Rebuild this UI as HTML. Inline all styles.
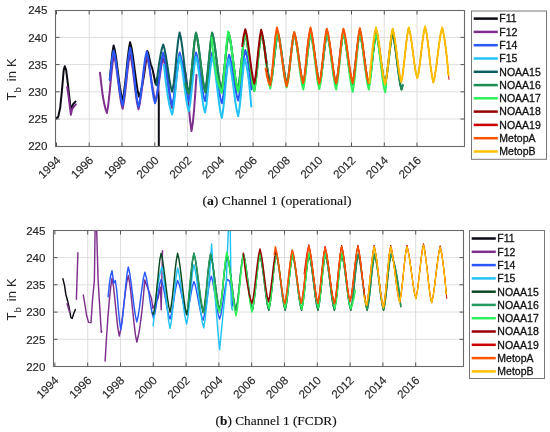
<!DOCTYPE html>
<html><head><meta charset="utf-8"><style>
html,body{margin:0;padding:0;background:#fff;width:550px;height:432px;overflow:hidden}
svg{display:block;will-change:transform}
.tk{font-family:"Liberation Sans",sans-serif;font-size:11.6px;fill:#262626;stroke:#262626;stroke-width:0.15}
.tx{font-family:"Liberation Sans",sans-serif;font-size:11.6px;fill:#262626;stroke:#262626;stroke-width:0.15}
.yl{font-family:"Liberation Sans",sans-serif;font-size:13px;fill:#262626;letter-spacing:0.1px}
.sub{font-size:9.5px}
.lg{font-family:"Liberation Sans",sans-serif;font-size:10.5px;fill:#111;stroke:#111;stroke-width:0.3}
.cap{font-family:"Liberation Serif",serif;font-size:13.2px;fill:#111;stroke:#111;stroke-width:0.15}
</style></head><body>
<svg width="550" height="432" viewBox="0 0 550 432">
<clipPath id="cliptop"><rect x="55.5" y="10.5" width="409.0" height="136.0"/></clipPath>
<path d="M89.25 10.5V146.5M122.03 10.5V146.5M154.81 10.5V146.5M187.58 10.5V146.5M220.36 10.5V146.5M253.14 10.5V146.5M285.92 10.5V146.5M318.70 10.5V146.5M351.47 10.5V146.5M384.25 10.5V146.5M417.03 10.5V146.5M55.5 119.00H464.5M55.5 91.80H464.5M55.5 64.60H464.5M55.5 37.40H464.5" stroke="#dedede" stroke-width="1" fill="none"/>
<path d="M55.4 119.0L58.2 116.9L60.2 107.8L62.0 89.8L63.7 70.3L64.8 66.2L66.2 70.3L67.9 84.2L69.3 96.7L70.4 106.4L71.4 110.0L72.0 106.4L73.4 103.7L75.5 101.6" stroke="#0b0b16" stroke-width="2.0" fill="none" stroke-linejoin="round" stroke-linecap="round" clip-path="url(#cliptop)"/>
<path d="M109.8 79.8L111.1 65.4L112.3 53.2L113.6 45.6L114.9 50.5L116.2 58.4L117.4 68.0L118.7 78.1L120.0 87.7L121.3 95.5L122.6 100.5L123.8 94.0L125.1 83.7L126.4 71.4L127.6 59.1L128.9 48.8L130.1 42.3L131.4 47.2L132.7 55.0L134.0 64.5L135.3 74.5L136.6 84.0L137.8 91.8L139.1 96.7L140.5 92.9L141.8 87.5L143.1 80.6L144.5 72.2L145.8 62.3L147.2 51.0L148.2 53.0L150.7 64.3L152.3 68.4L153.9 75.7L155.5 83.8L157.2 78.1L158.0 82.1L158.8 100.0L158.8 147.0" stroke="#0b0b16" stroke-width="2.0" fill="none" stroke-linejoin="round" stroke-linecap="round" clip-path="url(#cliptop)"/>
<path d="M67.2 87.0L68.6 96.7L70.0 107.8L70.9 114.8L72.0 109.2L74.1 106.4L75.9 104.4" stroke="#7e2f8e" stroke-width="2.0" fill="none" stroke-linejoin="round" stroke-linecap="round" clip-path="url(#cliptop)"/>
<path d="M100.0 72.8L101.4 85.2L102.7 95.3L104.1 103.1L105.5 109.0L106.9 113.0L108.3 104.8L109.7 91.6L111.1 76.8L112.5 63.6L113.9 55.4L115.4 61.3L116.8 70.8L118.2 82.0L119.7 93.3L121.1 102.7L122.6 108.7L123.8 102.6L125.1 92.9L126.4 81.5L127.6 70.0L128.9 60.3L130.1 54.3L131.5 60.4L132.9 70.1L134.3 81.7L135.7 93.3L137.1 103.1L138.5 109.2L139.8 103.3L141.2 94.0L142.6 82.8L143.9 71.7L145.3 62.3L146.7 56.4L148.0 60.5L149.2 66.8L150.5 74.6L151.8 82.9L153.1 90.6L154.4 97.0L155.7 101.0L157.1 94.9L158.6 85.1L160.1 74.0L161.6 64.2L163.0 58.1L164.4 62.6L165.7 69.7L167.0 78.5L168.3 87.7L169.6 96.4L170.9 103.6L172.2 108.1L173.7 100.8L175.2 89.1L176.6 76.0L178.1 64.3L179.6 57.0L181.1 59.5L182.6 63.4L184.1 68.4L185.7 73.8L187.1 87.1L188.6 104.3L190.1 120.6L191.5 131.0L192.8 123.0L194.0 110.7L195.2 94.5L196.5 74.9" stroke="#7e2f8e" stroke-width="2.0" fill="none" stroke-linejoin="round" stroke-linecap="round" clip-path="url(#cliptop)"/>
<path d="M109.8 79.8L111.1 67.4L112.3 57.0L113.6 50.5L114.9 55.4L116.2 63.3L117.4 72.9L118.7 83.0L120.0 92.6L121.3 100.4L122.6 105.4L123.8 99.0L125.1 88.7L126.4 76.6L127.6 64.4L128.9 54.1L130.1 47.7L131.5 54.3L132.9 64.9L134.3 77.4L135.7 89.9L137.1 100.4L138.5 107.0L139.8 100.9L141.2 91.0L142.6 79.3L143.9 67.6L145.3 57.7L146.7 51.5L148.1 57.3L149.5 66.5L150.8 77.4L152.2 88.3L153.6 97.5L155.0 103.2L156.4 97.6L157.8 88.6L159.1 77.9L160.5 67.2L161.8 58.3L163.2 52.6L164.5 57.4L165.8 64.9L167.1 74.1L168.4 83.9L169.6 93.1L170.9 100.6L172.2 105.4L173.7 97.9L175.2 85.8L176.6 72.2L178.1 60.1L179.6 52.6L180.9 57.0L182.2 63.9L183.5 72.4L184.8 81.3L186.1 89.8L187.5 96.7L188.8 101.0L190.2 94.2L191.6 83.1L193.1 70.6L194.5 59.5L196.0 52.6L197.3 57.0L198.5 63.9L199.8 72.4L201.1 81.3L202.4 89.8L203.7 96.7L205.0 101.0L206.4 94.2L207.9 83.1L209.3 70.6L210.7 59.5L212.2 52.6L213.6 57.2L214.9 64.4L216.3 73.3L217.7 82.6L219.1 91.4L220.5 98.7L221.9 103.2L223.3 96.3L224.7 85.3L226.2 72.8L227.6 61.7L229.1 54.8L230.4 58.9L231.7 65.5L233.0 73.4L234.3 81.9L235.6 89.8L236.9 96.4L238.2 100.5L239.6 93.3L241.0 81.7L242.5 68.7L243.9 57.1L245.3 49.9L246.8 55.4L248.3 63.9L249.8 75.3L251.3 89.6" stroke="#2a58fb" stroke-width="2.0" fill="none" stroke-linejoin="round" stroke-linecap="round" clip-path="url(#cliptop)"/>
<path d="M164.0 65.1L165.4 78.3L166.8 89.2L168.1 98.1L169.5 105.2L170.9 110.7L172.2 114.6L173.7 106.4L175.2 93.0L176.6 78.0L178.1 64.7L179.6 56.4L180.9 61.4L182.2 69.3L183.5 78.8L184.8 89.0L186.1 98.6L187.5 106.4L188.8 111.4L190.2 103.6L191.6 91.0L193.1 76.8L194.5 64.3L196.0 56.4L197.3 61.5L198.5 69.5L199.8 79.3L201.1 89.6L202.4 99.4L203.7 107.4L205.0 112.5L206.5 104.5L207.9 91.7L209.4 77.2L210.9 64.4L212.3 56.4L213.7 62.0L215.1 70.8L216.4 81.5L217.8 92.9L219.1 103.6L220.5 112.4L221.9 117.9L223.2 109.5L224.6 96.1L226.0 81.0L227.4 67.5L228.7 59.2L230.1 64.3L231.4 72.5L232.8 82.4L234.2 93.0L235.5 103.0L236.9 111.1L238.2 116.3L239.5 108.1L240.9 94.9L242.2 80.0L243.5 66.8L244.8 58.6L246.1 63.5L247.4 70.6L248.7 80.0L250.0 91.9L251.3 106.5" stroke="#22c2f4" stroke-width="2.0" fill="none" stroke-linejoin="round" stroke-linecap="round" clip-path="url(#cliptop)"/>
<path d="M156.3 85.3L157.7 73.8L159.1 63.7L160.5 55.3L161.8 48.9L163.2 44.5L164.5 48.7L165.8 55.5L167.1 63.8L168.4 72.5L169.6 80.8L170.9 87.5L172.2 91.8L173.7 83.4L175.2 69.8L176.6 54.5L178.1 40.9L179.6 32.5L180.9 38.0L182.2 46.7L183.5 57.3L184.8 68.6L186.1 79.2L187.5 87.9L188.8 93.4L190.2 84.8L191.6 71.0L193.1 55.5L194.5 41.6L196.0 33.0L197.3 38.3L198.5 46.5L199.8 56.6L201.1 67.2L202.4 77.3L203.7 85.5L205.0 90.7L206.5 82.5L207.9 69.3L209.4 54.5L210.9 41.3L212.3 33.0L213.6 38.3L214.9 46.5L216.2 56.6L217.5 67.2L218.8 77.3L220.1 85.5L221.4 90.7L222.8 82.5L224.3 69.3L225.8 54.5L227.3 41.3L228.7 33.0L230.0 38.3L231.3 46.5L232.6 56.6L233.9 67.2L235.2 77.3L236.5 85.5L237.7 90.7L239.2 82.5L240.7 69.3L242.2 54.5L243.6 41.3L245.1 33.0L246.4 38.3L247.7 46.5L249.0 56.6L250.3 67.2L251.5 77.3L252.8 85.5L254.1 90.7L255.6 82.5L257.1 69.3L258.5 54.5L260.0 41.3L261.5 33.0L262.8 37.7L264.1 45.0L265.4 53.9L266.6 63.3L267.9 72.3L269.2 79.6L270.5 84.2L272.0 76.9L273.4 65.2L274.9 52.0L276.4 40.3L277.9 33.0L279.2 37.7L280.4 45.0L281.7 53.9L283.0 63.3L284.3 72.3L285.6 79.6L286.9 84.2L288.4 76.9L289.8 65.2L291.3 52.0L292.8 40.3L294.2 33.0L295.5 37.7L296.8 45.0L298.1 53.9L299.4 63.3L300.7 72.3L302.0 79.6L303.3 84.2L304.7 76.9L306.2 65.2L307.7 52.0L309.2 40.3L310.6 33.0L311.9 37.7L313.2 45.0L314.5 53.9L315.8 63.3L317.1 72.3L318.4 79.6L319.6 84.2L321.1 76.9L322.6 65.2L324.1 52.0L325.5 40.3L327.0 33.0L328.3 37.7L329.6 45.0L330.9 53.9L332.2 63.3L333.4 72.3L334.7 79.6L336.0 84.2L337.5 76.9L339.0 65.2L340.4 52.0L341.9 40.3L343.4 33.0L344.7 37.7L346.0 45.0L347.3 53.9L348.5 63.3L349.8 72.3L351.1 79.6L352.4 84.2L353.9 76.9L355.3 65.2L356.8 52.0L358.3 40.3L359.8 33.0L361.1 37.7L362.3 45.0L363.6 53.9L364.9 63.3L366.2 72.3L367.5 79.6L368.8 84.2L370.3 76.9L371.7 65.2L373.2 52.0L374.7 40.3L376.1 33.0L377.4 37.7L378.7 45.0L380.0 53.9L381.3 63.3L382.6 72.3L383.9 79.6L385.2 84.2L386.6 76.9L388.1 65.2L389.6 52.0L391.1 40.3L392.5 33.0L393.8 38.2L395.1 46.2L396.4 56.1L397.7 66.6L399.0 76.4L400.3 84.5L401.5 89.6L402.7 85.3" stroke="#0d5e5e" stroke-width="2.0" fill="none" stroke-linejoin="round" stroke-linecap="round" clip-path="url(#cliptop)"/>
<path d="M185.3 83.6L186.5 88.5L187.6 91.6L188.8 93.4L190.2 84.8L191.6 70.8L193.1 55.1L194.5 41.2L196.0 32.5L197.3 38.0L198.7 46.6L200.0 57.1L201.4 68.3L202.8 78.8L204.1 87.4L205.5 92.9L206.8 84.3L208.1 70.5L209.4 54.9L210.7 41.1L212.0 32.5L213.4 37.7L214.7 46.0L216.0 56.0L217.4 66.7L218.7 76.7L220.0 85.0L221.4 90.2L222.8 82.0L224.3 69.0L225.8 54.3L227.3 41.2L228.7 33.0L230.0 38.2L231.3 46.4L232.6 56.3L233.9 66.9L235.2 76.8L236.5 85.0L237.7 90.2L239.2 82.0L240.7 69.0L242.2 54.3L243.6 41.2L245.1 33.0L246.4 38.2L247.7 46.4L249.0 56.3L250.3 66.9L251.5 76.8L252.8 85.0L254.1 90.2L255.6 82.0L257.1 69.0L258.5 54.3L260.0 41.2L261.5 33.0L262.8 37.7L264.1 45.0L265.4 53.9L266.6 63.3L267.9 72.3L269.2 79.6L270.5 84.2L272.0 76.9L273.4 65.2L274.9 52.0L276.4 40.3L277.9 33.0L279.2 37.7L280.4 45.0L281.7 53.9L283.0 63.3L284.3 72.3L285.6 79.6L286.9 84.2L288.4 76.9L289.8 65.2L291.3 52.0L292.8 40.3L294.2 33.0L295.5 37.7L296.8 45.0L298.1 53.9L299.4 63.3L300.7 72.3L302.0 79.6L303.3 84.2L304.7 76.9L306.2 65.2L307.7 52.0L309.2 40.3L310.6 33.0L311.9 37.7L313.2 45.0L314.5 53.9L315.8 63.3L317.1 72.3L318.4 79.6L319.6 84.2L321.1 76.9L322.6 65.2L324.1 52.0L325.5 40.3L327.0 33.0L328.3 37.7L329.6 45.0L330.9 53.9L332.2 63.3L333.4 72.3L334.7 79.6L336.0 84.2L337.5 76.9L339.0 65.2L340.4 52.0L341.9 40.3L343.4 33.0L344.7 37.7L346.0 45.0L347.3 53.9L348.5 63.3L349.8 72.3L351.1 79.6L352.4 84.2L353.9 76.9L355.3 65.2L356.8 52.0L358.3 40.3L359.8 33.0L361.1 37.7L362.3 45.0L363.6 53.9L364.9 63.3L366.2 72.3L367.5 79.6L368.8 84.2L370.3 76.9L371.7 65.2L373.2 52.0L374.7 40.3L376.1 33.0L377.4 37.7L378.7 45.0L380.0 53.9L381.3 63.3L382.6 72.3L383.9 79.6L385.2 84.2L386.6 76.9L388.1 65.2L389.6 52.0L391.1 40.3L392.5 33.0L393.8 38.2L395.1 46.2L396.4 56.1L397.7 66.6L399.0 76.4L400.3 84.5L401.5 89.6L402.7 85.3" stroke="#1d8c52" stroke-width="2.0" fill="none" stroke-linejoin="round" stroke-linecap="round" clip-path="url(#cliptop)"/>
<path d="M211.5 37.4L212.8 50.3L214.1 60.9L215.4 69.5L216.7 76.5L218.0 82.0L219.3 86.4L220.6 89.9L221.9 92.9L223.1 84.1L224.4 70.1L225.7 54.2L227.0 40.2L228.2 31.4L229.7 36.9L231.1 45.6L232.5 56.2L233.9 67.5L235.4 78.1L236.8 86.8L238.2 92.3L239.6 83.8L241.0 70.1L242.4 54.7L243.7 41.0L245.1 32.5L246.4 37.8L247.7 46.2L249.0 56.5L250.4 67.3L251.7 77.6L253.0 85.9L254.3 91.3L255.7 82.9L257.2 69.4L258.6 54.3L260.0 40.9L261.5 32.5L262.9 38.7L264.4 48.7L265.8 60.5L267.3 72.3L268.7 82.3L270.2 88.5L271.6 80.5L273.1 67.5L274.6 53.0L276.1 40.0L277.5 32.0L278.9 37.0L280.2 44.9L281.5 54.6L282.8 64.8L284.1 74.5L285.4 82.4L286.7 87.4L288.0 81.4L289.2 71.7L290.5 60.2L291.7 48.8L293.0 39.1L294.2 33.0L295.5 38.2L296.8 46.2L298.1 56.1L299.4 66.6L300.7 76.4L302.0 84.5L303.3 89.6L304.7 81.4L306.1 68.2L307.6 53.4L309.0 40.2L310.5 32.0L311.9 38.3L313.4 48.5L314.9 60.5L316.4 72.6L317.8 82.7L319.3 89.1L320.6 82.7L321.8 72.6L323.1 60.5L324.3 48.5L325.6 38.3L326.8 32.0L328.2 37.2L329.5 45.4L330.8 55.5L332.2 66.1L333.5 76.2L334.8 84.4L336.2 89.6L337.6 81.4L339.1 68.2L340.5 53.4L341.9 40.2L343.4 32.0L344.7 37.4L346.1 45.9L347.4 56.3L348.7 67.4L350.1 77.8L351.4 86.4L352.7 91.8L354.1 83.3L355.5 69.6L357.0 54.2L358.4 40.5L359.8 32.0L361.1 37.2L362.3 45.4L363.6 55.5L364.9 66.1L366.2 76.2L367.5 84.4L368.8 89.6L370.2 81.4L371.7 68.2L373.1 53.4L374.5 40.2L376.0 32.0L377.3 37.4L378.6 46.0L379.9 56.6L381.2 67.7L382.5 78.3L383.8 86.9L385.2 92.3L386.3 83.6" stroke="#2ef25a" stroke-width="2.0" fill="none" stroke-linejoin="round" stroke-linecap="round" clip-path="url(#cliptop)"/>
<path d="M242.2 46.1L243.7 35.7L245.3 29.2L246.6 34.2L247.8 41.9L249.1 51.4L250.4 61.5L251.7 71.0L253.0 78.7L254.3 83.6L255.7 76.0L257.0 63.6L258.4 49.8L259.8 37.5L261.2 29.8L262.4 34.8L263.7 42.7L265.0 52.4L266.3 62.7" stroke="#980000" stroke-width="2.0" fill="none" stroke-linejoin="round" stroke-linecap="round" clip-path="url(#cliptop)"/>
<path d="M265.0 52.4L266.3 62.7L267.6 72.3L268.9 80.3L270.2 85.3L271.5 77.1L272.9 63.9L274.2 49.0L275.5 35.8L276.9 27.6L278.3 32.9L279.7 41.3L281.1 51.6L282.5 62.4L283.9 72.7L285.3 81.1L286.7 86.4L288.0 80.3L289.2 70.6L290.5 59.2L291.7 47.7L293.0 38.0L294.2 32.0L295.7 37.6L297.2 46.7L298.7 57.5L300.1 68.3L301.6 77.4L303.1 83.1L304.6 75.2L306.0 62.5L307.5 48.2L309.0 35.5L310.5 27.6L311.9 33.8L313.4 43.8L314.9 55.6L316.4 67.5L317.8 77.4L319.3 83.6L320.6 77.5L321.8 67.8L323.1 56.2L324.3 44.6L325.6 34.8L326.8 28.7L328.2 33.7L329.5 41.5L330.8 51.1L332.2 61.2L333.5 70.8L334.8 78.7L336.2 83.6L337.6 75.8L339.1 63.2L340.5 49.1L341.9 36.5L343.4 28.7L344.7 33.6L346.1 41.4L347.4 50.9L348.7 60.9L350.1 70.4L351.4 78.2L352.7 83.1L354.1 75.3L355.5 62.7L357.0 48.5L358.4 36.0L359.8 28.2L361.2 34.3L362.7 44.0L364.1 55.6L365.6 67.2L367.0 77.0L368.5 83.1L369.7 76.9L371.0 67.1L372.2 55.4L373.5 43.6L374.7 33.8L376.0 27.6L377.3 32.7L378.6 40.8L379.9 50.7L381.2 61.1L382.5 71.0L383.8 79.1L385.2 84.2L386.4 78.0L387.7 68.2L388.9 56.4L390.2 44.7L391.4 34.9L392.7 28.7L394.1 34.6L395.5 44.1L397.0 55.4L398.4 66.6L399.8 76.1L401.2 82.0L402.5 76.0L403.7 66.3L405.0 54.8L406.2 43.3L407.5 33.7L408.7 27.6L410.2 33.2L411.6 42.2L413.0 52.9L414.4 63.6L415.8 72.6L417.3 78.2L418.6 72.5L419.9 63.3L421.2 52.4L422.5 41.4L423.8 32.3L425.1 26.5L426.5 32.7L427.9 42.7L429.2 54.5L430.6 66.4L432.0 76.3L433.3 82.6L434.8 76.4L436.3 66.7L437.7 55.1L439.2 43.5L440.7 33.7L442.2 27.6L443.4 32.7L444.7 40.3L446.0 50.1L447.3 61.8L448.5 74.9" stroke="#980000" stroke-width="1.0" fill="none" stroke-linejoin="round" stroke-linecap="round" clip-path="url(#cliptop)"/>
<path d="M306.0 56.4L307.5 43.9L309.0 33.8L310.5 27.6L311.9 33.8L313.4 43.8L314.9 55.6L316.4 67.5L317.8 77.4L319.3 83.6L320.6 77.5L321.8 67.8L323.1 56.2L324.3 44.6L325.6 34.8L326.8 28.7L328.2 33.7L329.5 41.5L330.8 51.1L332.2 61.2L333.5 70.8L334.8 78.7L336.2 83.6L337.6 75.8L339.1 63.2L340.5 49.1L341.9 36.5L343.4 28.7L344.7 33.6L346.1 41.4L347.4 50.9L348.7 60.9L350.1 70.4L351.4 78.2L352.7 83.1L354.1 75.3L355.5 62.7L357.0 48.5L358.4 36.0L359.8 28.2L361.2 34.3L362.7 44.0L364.1 55.6L365.6 67.2L367.0 77.0L368.5 83.1L369.7 76.9L371.0 67.1L372.2 55.4L373.5 43.6L374.7 33.8L376.0 27.6L377.3 32.7L378.6 40.8L379.9 50.7L381.2 61.1L382.5 71.0L383.8 79.1L385.2 84.2L386.4 78.0L387.7 68.2L388.9 56.4L390.2 44.7L391.4 34.9L392.7 28.7L394.1 34.6L395.5 44.1L397.0 55.4L398.4 66.6L399.8 76.1L401.2 82.0L402.5 76.0L403.7 66.3L405.0 54.8L406.2 43.3L407.5 33.7L408.7 27.6L410.2 33.2L411.6 42.2L413.0 52.9L414.4 63.6L415.8 72.6L417.3 78.2L418.6 72.5L419.9 63.3L421.2 52.4L422.5 41.4L423.8 32.3L425.1 26.5L426.5 32.7L427.9 42.7L429.2 54.5L430.6 66.4L432.0 76.3L433.3 82.6L434.8 76.4L436.3 66.7L437.7 55.1L439.2 43.5L440.7 33.7L442.2 27.6L443.4 32.7L444.7 40.3L446.0 50.1L447.3 61.8L448.5 74.9L449.0 79.3" stroke="#cc0000" stroke-width="1.0" fill="none" stroke-linejoin="round" stroke-linecap="round" clip-path="url(#cliptop)"/>
<path d="M265.6 68.4L267.1 76.8L268.6 82.2L270.2 85.3L271.5 77.1L272.9 63.9L274.2 49.0L275.5 35.8L276.9 27.6L278.3 32.9L279.7 41.3L281.1 51.6L282.5 62.4L283.9 72.7L285.3 81.1L286.7 86.4L288.0 80.3L289.2 70.6L290.5 59.2L291.7 47.7L293.0 38.0L294.2 32.0L295.7 37.6L297.2 46.7L298.7 57.5L300.1 68.3L301.6 77.4L303.1 83.1L304.6 75.2L306.0 62.5L307.5 48.2L309.0 35.5L310.5 27.6L311.9 33.8L313.4 43.8L314.9 55.6L316.4 67.5L317.8 77.4L319.3 83.6L320.6 77.5L321.8 67.8L323.1 56.2L324.3 44.6L325.6 34.8L326.8 28.7L328.2 33.7L329.5 41.5L330.8 51.1L332.2 61.2L333.5 70.8L334.8 78.7L336.2 83.6L337.6 75.8L339.1 63.2L340.5 49.1L341.9 36.5L343.4 28.7L344.7 33.6L346.1 41.4L347.4 50.9L348.7 60.9L350.1 70.4L351.4 78.2L352.7 83.1L354.1 75.3L355.5 62.7L357.0 48.5L358.4 36.0L359.8 28.2L361.2 34.3L362.7 44.0L364.1 55.6L365.6 67.2L367.0 77.0L368.5 83.1" stroke="#ff5500" stroke-width="2.0" fill="none" stroke-linejoin="round" stroke-linecap="round" clip-path="url(#cliptop)"/>
<path d="M368.5 83.1L369.7 76.9L371.0 67.1L372.2 55.4L373.5 43.6L374.7 33.8L376.0 27.6L377.3 32.7L378.6 40.8L379.9 50.7L381.2 61.1L382.5 71.0L383.8 79.1L385.2 84.2L386.4 78.0L387.7 68.2L388.9 56.4L390.2 44.7L391.4 34.9L392.7 28.7L394.1 34.6L395.5 44.1L397.0 55.4L398.4 66.6L399.8 76.1L401.2 82.0L402.5 76.0L403.7 66.3L405.0 54.8L406.2 43.3L407.5 33.7L408.7 27.6L410.2 33.2L411.6 42.2L413.0 52.9L414.4 63.6L415.8 72.6L417.3 78.2L418.6 72.5L419.9 63.3L421.2 52.4L422.5 41.4L423.8 32.3L425.1 26.5L426.5 32.7L427.9 42.7L429.2 54.5L430.6 66.4L432.0 76.3L433.3 82.6L434.8 76.4L436.3 66.7L437.7 55.1L439.2 43.5L440.7 33.7L442.2 27.6L443.4 32.7L444.7 40.3L446.0 50.1L447.3 61.8L448.5 74.9" stroke="#ff5500" stroke-width="1.0" fill="none" stroke-linejoin="round" stroke-linecap="round" clip-path="url(#cliptop)"/>
<path d="M369.3 82.6L370.6 67.4L372.0 53.9L373.3 42.5L374.6 33.6L376.0 27.6L377.3 32.7L378.6 40.8L379.9 50.7L381.2 61.1L382.5 71.0L383.8 79.1L385.2 84.2L386.4 78.0L387.7 68.2L388.9 56.4L390.2 44.7L391.4 34.9L392.7 28.7L394.1 34.6L395.5 44.1L397.0 55.4L398.4 66.6L399.8 76.1L401.2 82.0L402.5 76.0L403.7 66.3L405.0 54.8L406.2 43.3L407.5 33.7L408.7 27.6L410.2 33.2L411.6 42.2L413.0 52.9L414.4 63.6L415.8 72.6L417.3 78.2L418.6 72.5L419.9 63.3L421.2 52.4L422.5 41.4L423.8 32.3L425.1 26.5L426.5 32.7L427.9 42.7L429.2 54.5L430.6 66.4L432.0 76.3L433.3 82.6L434.8 76.4L436.3 66.7L437.7 55.1L439.2 43.5L440.7 33.7L442.2 27.6L443.4 32.7L444.7 40.3L446.0 50.1L447.3 61.8L448.5 74.9" stroke="#ffc000" stroke-width="2.0" fill="none" stroke-linejoin="round" stroke-linecap="round" clip-path="url(#cliptop)"/>
<rect x="55.5" y="10.5" width="409.0" height="136.0" fill="none" stroke="#6a6a6a" stroke-width="1.1"/>
<path d="M56.5 146.5v-4M56.5 10.5v4M89.2 146.5v-4M89.2 10.5v4M122.0 146.5v-4M122.0 10.5v4M154.8 146.5v-4M154.8 10.5v4M187.6 146.5v-4M187.6 10.5v4M220.4 146.5v-4M220.4 10.5v4M253.1 146.5v-4M253.1 10.5v4M285.9 146.5v-4M285.9 10.5v4M318.7 146.5v-4M318.7 10.5v4M351.5 146.5v-4M351.5 10.5v4M384.3 146.5v-4M384.3 10.5v4M417.0 146.5v-4M417.0 10.5v4M55.5 119.0h4M464.5 119.0h-4M55.5 91.8h4M464.5 91.8h-4M55.5 64.6h4M464.5 64.6h-4M55.5 37.4h4M464.5 37.4h-4" stroke="#555" stroke-width="1" fill="none"/>
<text x="47.5" y="150.4" text-anchor="end" class="tk">220</text>
<text x="47.5" y="123.2" text-anchor="end" class="tk">225</text>
<text x="47.5" y="96.0" text-anchor="end" class="tk">230</text>
<text x="47.5" y="68.8" text-anchor="end" class="tk">235</text>
<text x="47.5" y="41.6" text-anchor="end" class="tk">240</text>
<text x="47.5" y="14.4" text-anchor="end" class="tk">245</text>
<text transform="translate(61.3,161.1) rotate(-45)" text-anchor="end" class="tx">1994</text>
<text transform="translate(94.1,161.1) rotate(-45)" text-anchor="end" class="tx">1996</text>
<text transform="translate(126.9,161.1) rotate(-45)" text-anchor="end" class="tx">1998</text>
<text transform="translate(159.6,161.1) rotate(-45)" text-anchor="end" class="tx">2000</text>
<text transform="translate(192.4,161.1) rotate(-45)" text-anchor="end" class="tx">2002</text>
<text transform="translate(225.1,161.1) rotate(-45)" text-anchor="end" class="tx">2004</text>
<text transform="translate(257.9,161.1) rotate(-45)" text-anchor="end" class="tx">2006</text>
<text transform="translate(290.7,161.1) rotate(-45)" text-anchor="end" class="tx">2008</text>
<text transform="translate(323.4,161.1) rotate(-45)" text-anchor="end" class="tx">2010</text>
<text transform="translate(356.2,161.1) rotate(-45)" text-anchor="end" class="tx">2012</text>
<text transform="translate(388.9,161.1) rotate(-45)" text-anchor="end" class="tx">2014</text>
<text transform="translate(421.7,161.1) rotate(-45)" text-anchor="end" class="tx">2016</text>
<text transform="translate(15.6,79.4) rotate(-90)" text-anchor="middle" class="yl">T<tspan class="sub" dy="5.8">b</tspan><tspan dy="-5.8" dx="2.2"> in K</tspan></text>
<rect x="471.5" y="11.0" width="75.0" height="148.3" fill="#fff" stroke="#777" stroke-width="1"/>
<path d="M473.7 18.6H497.8" stroke="#0b0b16" stroke-width="2.5"/>
<text x="499.3" y="22.4" class="lg">F11</text>
<path d="M473.7 31.9H497.8" stroke="#7e2f8e" stroke-width="2.5"/>
<text x="499.3" y="35.7" class="lg">F12</text>
<path d="M473.7 45.2H497.8" stroke="#2a58fb" stroke-width="2.5"/>
<text x="499.3" y="49.0" class="lg">F14</text>
<path d="M473.7 58.5H497.8" stroke="#22c2f4" stroke-width="2.5"/>
<text x="499.3" y="62.3" class="lg">F15</text>
<path d="M473.7 71.8H497.8" stroke="#0d5e5e" stroke-width="2.5"/>
<text x="499.3" y="75.6" class="lg">NOAA15</text>
<path d="M473.7 85.1H497.8" stroke="#1d8c52" stroke-width="2.5"/>
<text x="499.3" y="88.9" class="lg">NOAA16</text>
<path d="M473.7 98.3H497.8" stroke="#2ef25a" stroke-width="2.5"/>
<text x="499.3" y="102.1" class="lg">NOAA17</text>
<path d="M473.7 111.6H497.8" stroke="#980000" stroke-width="2.5"/>
<text x="499.3" y="115.4" class="lg">NOAA18</text>
<path d="M473.7 124.9H497.8" stroke="#cc0000" stroke-width="2.5"/>
<text x="499.3" y="128.7" class="lg">NOAA19</text>
<path d="M473.7 138.2H497.8" stroke="#ff5500" stroke-width="2.5"/>
<text x="499.3" y="142.0" class="lg">MetopA</text>
<path d="M473.7 151.5H497.8" stroke="#ffc000" stroke-width="2.5"/>
<text x="499.3" y="155.3" class="lg">MetopB</text>
<clipPath id="clipbot"><rect x="53.5" y="230.5" width="410.0" height="136.0"/></clipPath>
<path d="M87.74 230.5V366.5M120.53 230.5V366.5M153.32 230.5V366.5M186.12 230.5V366.5M218.91 230.5V366.5M251.70 230.5V366.5M284.49 230.5V366.5M317.28 230.5V366.5M350.08 230.5V366.5M382.87 230.5V366.5M415.66 230.5V366.5M53.5 339.28H463.5M53.5 312.06H463.5M53.5 284.84H463.5M53.5 257.62H463.5" stroke="#dedede" stroke-width="1" fill="none"/>
<path d="M62.9 278.7L64.5 285.3L65.8 294.2L67.7 301.2L69.0 306.9L70.9 317.7L72.2 318.4L73.8 313.3L75.4 309.5" stroke="#0b0b16" stroke-width="1.45" fill="none" stroke-linejoin="round" stroke-linecap="round" clip-path="url(#clipbot)"/>
<path d="M67.1 303.7L69.6 312.0" stroke="#7e2f8e" stroke-width="1.45" fill="none" stroke-linejoin="round" stroke-linecap="round" clip-path="url(#clipbot)"/>
<path d="M76.4 299.3L77.9 252.8" stroke="#7e2f8e" stroke-width="1.45" fill="none" stroke-linejoin="round" stroke-linecap="round" clip-path="url(#clipbot)"/>
<path d="M83.3 295.0L85.0 305.0L86.5 315.0L88.6 322.4L91.0 322.6L92.5 300.0L94.4 280.0L95.1 228.0L95.8 222.0L96.6 228.0L98.1 280.0L99.3 300.0L101.3 332.4L101.8 331.5" stroke="#7e2f8e" stroke-width="1.45" fill="none" stroke-linejoin="round" stroke-linecap="round" clip-path="url(#clipbot)"/>
<path d="M105.1 361.1L106.5 337.7L107.9 317.4L109.3 300.4L110.7 287.2L112.0 278.3L113.5 286.5L114.9 299.7L116.4 314.6L117.8 327.8L119.3 336.0L120.5 330.6L121.8 321.9L123.1 311.4L124.4 300.2L125.7 289.7L127.0 281.0L128.3 275.6L129.7 283.0L131.1 294.8L132.5 308.8L134.0 322.8L135.4 334.6L136.8 342.0L138.1 336.8L139.5 329.5L140.8 320.2L142.2 308.8L143.5 295.3L144.8 279.9L151.5 298.5L152.8 308.2L154.7 305.0L158.0 298.5L160.4 287.1L161.2 309.8L162.5 250.7" stroke="#7e2f8e" stroke-width="1.45" fill="none" stroke-linejoin="round" stroke-linecap="round" clip-path="url(#clipbot)"/>
<path d="M108.1 296.8L109.4 283.7L110.7 275.4L112.0 270.7L113.8 283.2L115.3 280.5L116.7 290.0L118.0 305.0L119.4 320.0L120.7 329.5L122.0 322.5L123.2 311.4L124.5 298.2L125.8 285.0L127.0 273.8L128.3 266.9L129.7 273.0L131.1 282.8L132.5 294.4L134.0 306.0L135.4 315.7L136.8 321.9L138.1 316.4L139.5 307.5L140.8 297.1L142.2 286.6L143.5 277.8L144.8 272.3L146.3 277.4L147.7 285.5L149.2 295.2L150.6 304.8L152.1 313.0L153.5 318.0L154.8 313.8L156.0 306.9L157.3 298.7L158.6 290.6L159.8 283.7L161.1 279.4L162.4 283.0L163.6 288.7L164.9 295.6L166.2 302.9L167.5 309.9L168.8 315.5L170.1 319.1L171.3 314.8L172.6 308.0L173.9 299.8L175.1 291.7L176.4 284.8L177.6 280.5L178.9 283.5L180.2 288.4L181.5 294.2L182.8 300.5L184.1 306.4L185.4 311.2L186.7 314.2L188.1 309.6L189.5 302.1L191.0 293.7L192.4 286.2L193.9 281.6L195.2 285.1L196.5 290.6L197.8 297.3L199.1 304.5L200.4 311.2L201.7 316.7L203.1 320.2L204.4 315.3L205.8 307.5L207.2 298.2L208.5 288.9L209.9 281.0L211.3 276.1L212.6 280.9L214.0 288.6L215.4 297.6L216.8 306.7L218.2 314.4L219.6 319.1L220.9 314.7L222.1 307.7L223.4 299.3L224.6 290.9L225.9 283.8L227.2 279.4L228.5 280.2L229.8 281.6L231.3 291.4L232.7 306.1" stroke="#2a58fb" stroke-width="1.45" fill="none" stroke-linejoin="round" stroke-linecap="round" clip-path="url(#clipbot)"/>
<path d="M153.2 325.7L154.6 310.6L156.1 297.8L157.5 287.1L159.0 278.4L160.4 271.7L161.9 266.9L163.3 273.7L164.6 284.6L166.0 297.6L167.4 310.6L168.7 321.6L170.1 328.4L171.3 321.7L172.6 310.9L173.9 298.2L175.1 285.4L176.4 274.7L177.6 268.0L178.9 273.0L180.2 281.0L181.5 290.8L182.8 301.2L184.1 311.0L185.4 319.0L186.7 324.0L188.1 315.6L189.5 302.0L191.0 286.7L192.4 273.1L193.9 264.7L195.3 270.4L196.7 279.4L198.1 290.4L199.5 302.1L200.9 313.1L202.3 322.1L203.7 327.8L205.2 318.9L206.7 305.0L208.3 288.4L209.8 271.2L211.6 244.0L213.2 271.2L214.5 288.5L215.8 305.1L217.1 321.0L218.3 335.9L219.6 349.6L223.3 311.5L226.1 285.6L228.4 228.0L229.3 220.0L230.2 228.0L231.3 304.7L232.3 310.0" stroke="#22c2f4" stroke-width="1.45" fill="none" stroke-linejoin="round" stroke-linecap="round" clip-path="url(#clipbot)"/>
<path d="M152.4 313.1L153.5 314.2L154.8 307.5L156.0 296.6L157.3 283.8L158.6 270.9L159.8 260.0L161.1 253.3L162.4 258.6L163.6 267.0L164.9 277.2L166.2 288.1L167.5 298.3L168.8 306.7L170.1 312.1L171.3 305.5L172.6 295.1L173.9 282.7L175.1 270.3L176.4 259.8L177.6 253.3L178.9 258.8L180.2 267.6L181.5 278.3L182.8 289.7L184.1 300.4L185.4 309.2L186.7 314.8L188.1 306.0L189.5 291.9L191.0 276.1L192.4 262.0L193.9 253.3L195.2 258.6L196.5 267.1L197.9 277.5L199.2 288.4L200.5 298.8L201.9 307.2L203.2 312.6L204.7 304.3L206.2 291.0L207.6 276.0L209.1 262.6L210.6 254.4L211.9 259.4L213.2 267.4L214.5 277.2L215.8 287.6L217.0 297.3L218.3 305.4L219.6 310.4L221.1 302.4L222.6 289.6L224.0 275.2L225.5 262.3L227.0 254.4L228.3 259.4L229.6 267.4L230.9 277.2L232.2 287.6L233.4 297.3L234.7 305.4L236.0 310.4L237.5 302.4L239.0 289.6L240.4 275.2L241.9 262.3L243.4 254.4L244.7 259.4L246.0 267.4L247.3 277.2L248.6 287.6L249.8 297.3L251.1 305.4L252.4 310.4L253.9 302.4L255.4 289.6L256.8 275.2L258.3 262.3L259.8 254.4L261.1 259.4L262.4 267.4L263.7 277.2L265.0 287.6L266.2 297.3L267.5 305.4L268.8 310.4L270.3 302.4L271.8 289.6L273.2 275.2L274.7 262.3L276.2 254.4L277.5 259.4L278.8 267.4L280.1 277.2L281.4 287.6L282.6 297.3L283.9 305.4L285.2 310.4L286.7 302.4L288.2 289.6L289.6 275.2L291.1 262.3L292.6 254.4L293.9 259.4L295.2 267.4L296.5 277.2L297.8 287.6L299.0 297.3L300.3 305.4L301.6 310.4L303.1 302.4L304.6 289.6L306.0 275.2L307.5 262.3L309.0 254.4L310.3 259.4L311.6 267.4L312.9 277.2L314.2 287.6L315.4 297.3L316.7 305.4L318.0 310.4L319.5 302.4L321.0 289.6L322.4 275.2L323.9 262.3L325.4 254.4L326.7 259.4L328.0 267.4L329.3 277.2L330.6 287.6L331.8 297.3L333.1 305.4L334.4 310.4L335.9 302.4L337.4 289.6L338.8 275.2L340.3 262.3L341.8 254.4L343.1 259.4L344.4 267.4L345.7 277.2L347.0 287.6L348.2 297.3L349.5 305.4L350.8 310.4L352.3 302.4L353.8 289.6L355.2 275.2L356.7 262.3L358.2 254.4L359.5 259.4L360.8 267.4L362.1 277.2L363.4 287.6L364.6 297.3L365.9 305.4L367.2 310.4L368.7 302.4L370.2 289.6L371.6 275.2L373.1 262.3L374.6 254.4L375.9 259.4L377.2 267.4L378.5 277.2L379.8 287.6L381.0 297.3L382.3 305.4L383.6 310.4L385.1 302.4L386.6 289.6L388.0 275.2L389.5 262.3L391.0 254.4L392.4 257.8L393.8 262.2L395.2 267.8L396.6 274.8L398.0 283.5L399.4 294.0L400.8 306.6" stroke="#0a4a22" stroke-width="1.45" fill="none" stroke-linejoin="round" stroke-linecap="round" clip-path="url(#clipbot)"/>
<path d="M187.6 309.3L188.9 294.3L190.1 280.5L191.4 268.8L192.6 259.5L193.9 253.3L195.3 258.6L196.7 267.1L198.1 277.5L199.5 288.4L200.9 298.8L202.3 307.2L203.7 312.6L205.1 304.2L206.4 290.8L207.7 275.6L209.1 262.2L210.4 253.8L211.7 258.9L213.1 266.9L214.4 276.7L215.7 287.0L217.0 296.8L218.3 304.8L219.6 309.9L221.1 301.9L222.6 289.1L224.0 274.6L225.5 261.8L227.0 253.8L228.3 258.9L229.6 266.9L230.9 276.7L232.2 287.0L233.4 296.8L234.7 304.8L236.0 309.9L237.5 301.9L239.0 289.1L240.4 274.6L241.9 261.8L243.4 253.8L244.7 258.9L246.0 266.9L247.3 276.7L248.6 287.0L249.8 296.8L251.1 304.8L252.4 309.9L253.9 301.9L255.4 289.1L256.8 274.6L258.3 261.8L259.8 253.8L261.1 258.9L262.4 266.9L263.7 276.7L265.0 287.0L266.2 296.8L267.5 304.8L268.8 309.9L270.3 301.9L271.8 289.1L273.2 274.6L274.7 261.8L276.2 253.8L277.5 258.9L278.8 266.9L280.1 276.7L281.4 287.0L282.6 296.8L283.9 304.8L285.2 309.9L286.7 301.9L288.2 289.1L289.6 274.6L291.1 261.8L292.6 253.8L293.9 258.9L295.2 266.9L296.5 276.7L297.8 287.0L299.0 296.8L300.3 304.8L301.6 309.9L303.1 301.9L304.6 289.1L306.0 274.6L307.5 261.8L309.0 253.8L310.3 258.9L311.6 266.9L312.9 276.7L314.2 287.0L315.4 296.8L316.7 304.8L318.0 309.9L319.5 301.9L321.0 289.1L322.4 274.6L323.9 261.8L325.4 253.8L326.7 258.9L328.0 266.9L329.3 276.7L330.6 287.0L331.8 296.8L333.1 304.8L334.4 309.9L335.9 301.9L337.4 289.1L338.8 274.6L340.3 261.8L341.8 253.8L343.1 258.9L344.4 266.9L345.7 276.7L347.0 287.0L348.2 296.8L349.5 304.8L350.8 309.9L352.3 301.9L353.8 289.1L355.2 274.6L356.7 261.8L358.2 253.8L359.5 258.9L360.8 266.9L362.1 276.7L363.4 287.0L364.6 296.8L365.9 304.8L367.2 309.9L368.7 301.9L370.2 289.1L371.6 274.6L373.1 261.8L374.6 253.8L375.9 258.9L377.2 266.9L378.5 276.7L379.8 287.0L381.0 296.8L382.3 304.8L383.6 309.9L385.1 301.9L386.6 289.1L388.0 274.6L389.5 261.8L391.0 253.8L392.4 257.3L393.8 261.7L395.2 267.4L396.6 274.5L398.0 283.3L399.4 293.9L400.8 306.6" stroke="#239a5e" stroke-width="1.45" fill="none" stroke-linejoin="round" stroke-linecap="round" clip-path="url(#clipbot)"/>
<path d="M213.6 282.1L215.1 293.7L216.6 302.4L218.1 308.6L219.6 312.6L221.1 304.0L222.5 290.2L223.9 274.6L225.4 260.8L226.8 252.2L228.1 257.9L229.5 267.0L230.8 278.1L232.1 289.9L233.4 301.0L234.7 310.1L236.0 315.9L237.3 309.0L238.5 298.1L239.8 285.1L241.0 272.1L242.3 261.2L243.6 254.4L245.0 260.8L246.4 271.0L247.7 283.2L249.1 295.4L250.5 305.6L251.9 312.1L253.3 305.5L254.7 295.1L256.1 282.7L257.5 270.3L258.9 259.8L260.3 253.3L261.7 259.4L263.2 269.1L264.6 280.8L266.1 292.4L267.5 302.1L269.0 308.2L270.5 300.3L271.9 287.6L273.4 273.3L274.9 260.6L276.4 252.7L277.8 258.9L279.3 268.8L280.8 280.5L282.3 292.2L283.7 302.1L285.2 308.2L286.5 302.2L287.7 292.5L289.0 281.0L290.2 269.5L291.5 259.9L292.8 253.8L294.1 258.8L295.3 266.8L296.6 276.4L297.9 286.7L299.2 296.4L300.5 304.3L301.8 309.3L303.0 303.0L304.3 293.0L305.6 281.0L306.8 269.1L308.1 259.0L309.3 252.7L310.6 257.7L311.9 265.5L313.2 275.1L314.5 285.3L315.8 294.9L317.1 302.7L318.3 307.7L319.8 299.9L321.2 287.3L322.7 273.1L324.1 260.6L325.6 252.7L326.9 257.7L328.2 265.7L329.6 275.4L330.9 285.6L332.2 295.3L333.6 303.2L334.9 308.2L336.4 300.3L337.8 287.6L339.2 273.3L340.7 260.6L342.1 252.7L343.5 259.0L345.0 268.9L346.4 280.8L347.8 292.6L349.2 302.6L350.7 308.8L352.2 305.1L353.8 298.9L355.4 290.3" stroke="#2ef25a" stroke-width="1.45" fill="none" stroke-linejoin="round" stroke-linecap="round" clip-path="url(#clipbot)"/>
<path d="M243.4 253.3L244.8 266.2L246.2 277.1L247.7 286.2L249.1 293.6L250.5 299.3L251.9 303.3L253.3 297.3L254.6 287.6L255.9 276.1L257.3 264.6L258.6 255.0L260.0 248.9L261.4 254.8L262.8 264.2L264.2 275.3L265.6 286.5L267.1 295.8L268.5 301.7L269.7 296.1L271.0 287.1L272.3 276.4L273.5 265.7L274.8 256.7" stroke="#980000" stroke-width="1.45" fill="none" stroke-linejoin="round" stroke-linecap="round" clip-path="url(#clipbot)"/>
<path d="M274.8 256.7L276.0 251.1L277.5 257.0L278.9 266.3L280.4 277.5L281.8 288.6L283.3 298.0L284.7 303.9L286.0 297.9L287.2 288.3L288.5 276.9L289.8 265.6L291.0 256.0L292.3 250.0L293.6 254.8L294.8 262.4L296.1 271.7L297.4 281.6L298.7 290.9L300.0 298.5L301.3 303.3L302.5 297.0L303.8 286.8L305.1 274.8L306.3 262.7L307.6 252.5L308.8 246.2L310.1 251.4L311.4 259.5L312.7 269.5L314.0 280.1L315.3 290.0L316.6 298.2L317.9 303.3L319.3 295.4L320.7 282.7L322.2 268.4L323.6 255.7L325.1 247.8L326.4 252.9L327.7 260.9L329.1 270.7L330.4 281.0L331.7 290.8L333.1 298.8L334.4 303.9L335.9 295.8L337.3 282.7L338.7 268.0L340.2 254.9L341.6 246.7L343.1 252.8L344.5 262.6L345.9 274.2L347.3 285.8L348.7 295.6L350.2 301.7L351.4 295.6L352.7 285.8L354.0 274.2L355.3 262.6L356.6 252.8L357.9 246.7L359.3 253.3L360.8 263.7L362.2 276.1L363.7 288.5L365.1 299.0L366.6 305.5L367.8 299.0L369.1 288.5L370.3 276.1L371.6 263.7L372.9 253.3L374.1 246.7L375.4 252.2L376.8 261.0L378.1 271.6L379.4 282.9L380.8 293.5L382.1 302.2L383.5 307.7L384.9 299.0L386.3 285.1L387.8 269.4L389.2 255.4L390.7 246.7L392.0 251.8L393.2 259.7L394.5 269.4L395.8 279.6L397.1 289.3L398.4 297.2L399.7 302.3L401.1 294.4L402.6 281.6L404.0 267.3L405.5 254.6L406.9 246.7L408.2 251.4L409.5 258.8L410.8 267.8L412.1 277.4L413.4 286.4L414.6 293.8L415.9 298.4L417.2 292.5L418.4 283.0L419.7 271.8L421.0 260.5L422.2 251.0L423.5 245.1L424.8 251.5L426.2 261.8L427.6 274.0L428.9 286.1L430.3 296.4L431.7 302.8L433.1 296.6L434.5 286.8L435.9 275.0L437.4 263.3L438.8 253.4L440.2 247.3L441.7 254.0L443.2 264.5L444.8 278.0L446.3 294.1" stroke="#980000" stroke-width="1.0" fill="none" stroke-linejoin="round" stroke-linecap="round" clip-path="url(#clipbot)"/>
<path d="M304.1 274.0L305.7 261.0L307.3 250.8L308.8 244.6L310.1 249.9L311.4 258.3L312.7 268.5L314.0 279.4L315.3 289.6L316.6 298.0L317.9 303.3L319.3 295.2L320.7 282.1L322.2 267.4L323.6 254.3L325.1 246.2L326.4 251.4L327.7 259.6L329.1 269.7L330.4 280.4L331.7 290.4L333.1 298.7L334.4 303.9L335.9 295.5L337.3 282.1L338.7 266.9L340.2 253.5L341.6 245.1L343.1 251.4L344.5 261.5L345.9 273.4L347.3 285.4L348.7 295.4L350.2 301.7L351.4 295.4L352.7 285.4L354.0 273.4L355.3 261.5L356.6 251.4L357.9 245.1L359.3 251.8L360.8 262.6L362.2 275.3L363.7 288.1L365.1 298.8L366.6 305.5L367.8 298.8L369.1 288.1L370.3 275.3L371.6 262.6L372.9 251.8L374.1 245.1L375.4 250.8L376.8 259.7L378.1 270.6L379.4 282.2L380.8 293.1L382.1 302.0L383.5 307.7L384.9 298.8L386.3 284.5L387.8 268.3L389.2 254.0L390.7 245.1L392.0 250.3L393.2 258.4L394.5 268.4L395.8 279.0L397.1 288.9L398.4 297.1L399.7 302.3L401.1 294.1L402.6 281.0L404.0 266.3L405.5 253.2L406.9 245.1L408.2 249.9L409.5 257.5L410.8 266.8L412.1 276.7L413.4 286.0L414.6 293.6L415.9 298.4L417.2 292.3L418.4 282.6L419.7 271.0L421.0 259.3L422.2 249.6L423.5 243.5L424.8 250.1L426.2 260.6L427.6 273.1L428.9 285.7L430.3 296.2L431.7 302.8L433.1 296.5L434.5 286.3L435.9 274.2L437.4 262.2L438.8 252.0L440.2 245.6L441.7 252.6L443.2 263.5L444.8 277.5L446.3 294.1L446.8 298.4" stroke="#cc0000" stroke-width="1.0" fill="none" stroke-linejoin="round" stroke-linecap="round" clip-path="url(#clipbot)"/>
<path d="M274.2 254.9L275.4 246.7L276.7 251.9L278.1 260.1L279.4 270.0L280.7 280.6L282.1 290.6L283.4 298.7L284.7 303.9L286.0 297.9L287.2 288.3L288.5 276.9L289.8 265.6L291.0 256.0L292.3 250.0L293.6 254.8L294.8 262.4L296.1 271.7L297.4 281.6L298.7 290.9L300.0 298.5L301.3 303.3L302.5 297.0L303.8 286.8L305.1 274.8L306.3 262.7L307.6 252.5L308.8 246.2L310.1 251.4L311.4 259.5L312.7 269.5L314.0 280.1L315.3 290.0L316.6 298.2L317.9 303.3L319.3 295.4L320.7 282.7L322.2 268.4L323.6 255.7L325.1 247.8L326.4 252.9L327.7 260.9L329.1 270.7L330.4 281.0L331.7 290.8L333.1 298.8L334.4 303.9L335.9 295.8L337.3 282.7L338.7 268.0L340.2 254.9L341.6 246.7L343.1 252.8L344.5 262.6L345.9 274.2L347.3 285.8L348.7 295.6L350.2 301.7L351.4 295.6L352.7 285.8L354.0 274.2L355.3 262.6L356.6 252.8L357.9 246.7L359.3 253.3L360.8 263.7L362.2 276.1L363.7 288.5" stroke="#ff5500" stroke-width="1.45" fill="none" stroke-linejoin="round" stroke-linecap="round" clip-path="url(#clipbot)"/>
<path d="M363.7 288.5L365.1 299.0L366.6 305.5L367.8 299.0L369.1 288.5L370.3 276.1L371.6 263.7L372.9 253.3L374.1 246.7L375.4 252.2L376.8 261.0L378.1 271.6L379.4 282.9L380.8 293.5L382.1 302.2L383.5 307.7L384.9 299.0L386.3 285.1L387.8 269.4L389.2 255.4L390.7 246.7L392.0 251.8L393.2 259.7L394.5 269.4L395.8 279.6L397.1 289.3L398.4 297.2L399.7 302.3L401.1 294.4L402.6 281.6L404.0 267.3L405.5 254.6L406.9 246.7L408.2 251.4L409.5 258.8L410.8 267.8L412.1 277.4L413.4 286.4L414.6 293.8L415.9 298.4L417.2 292.5L418.4 283.0L419.7 271.8L421.0 260.5L422.2 251.0L423.5 245.1L424.8 251.5L426.2 261.8L427.6 274.0L428.9 286.1L430.3 296.4L431.7 302.8L433.1 296.6L434.5 286.8L435.9 275.0L437.4 263.3L438.8 253.4L440.2 247.3L441.7 254.0L443.2 264.5L444.8 278.0L446.3 294.1" stroke="#ff5500" stroke-width="1.0" fill="none" stroke-linejoin="round" stroke-linecap="round" clip-path="url(#clipbot)"/>
<path d="M363.9 295.7L365.3 301.9L366.6 305.5L367.8 299.0L369.1 288.5L370.3 276.1L371.6 263.7L372.9 253.3L374.1 246.7L375.4 252.2L376.8 261.0L378.1 271.6L379.4 282.9L380.8 293.5L382.1 302.2L383.5 307.7L384.9 299.0L386.3 285.1L387.8 269.4L389.2 255.4L390.7 246.7L392.0 251.8L393.2 259.7L394.5 269.4L395.8 279.6L397.1 289.3L398.4 297.2L399.7 302.3L401.1 294.4L402.6 281.6L404.0 267.3L405.5 254.6L406.9 246.7L408.2 251.4L409.5 258.8L410.8 267.8L412.1 277.4L413.4 286.4L414.6 293.8L415.9 298.4L417.2 292.5L418.4 283.0L419.7 271.8L421.0 260.5L422.2 251.0L423.5 245.1L424.8 251.5L426.2 261.8L427.6 274.0L428.9 286.1L430.3 296.4L431.7 302.8L433.1 296.6L434.5 286.8L435.9 275.0L437.4 263.3L438.8 253.4L440.2 247.3L441.7 254.0L443.2 264.5L444.8 278.0L446.3 294.1" stroke="#ffc000" stroke-width="1.45" fill="none" stroke-linejoin="round" stroke-linecap="round" clip-path="url(#clipbot)"/>
<rect x="53.5" y="230.5" width="410.0" height="136.0" fill="none" stroke="#6a6a6a" stroke-width="1.1"/>
<path d="M54.9 366.5v-4M54.9 230.5v4M87.7 366.5v-4M87.7 230.5v4M120.5 366.5v-4M120.5 230.5v4M153.3 366.5v-4M153.3 230.5v4M186.1 366.5v-4M186.1 230.5v4M218.9 366.5v-4M218.9 230.5v4M251.7 366.5v-4M251.7 230.5v4M284.5 366.5v-4M284.5 230.5v4M317.3 366.5v-4M317.3 230.5v4M350.1 366.5v-4M350.1 230.5v4M382.9 366.5v-4M382.9 230.5v4M415.7 366.5v-4M415.7 230.5v4M53.5 339.3h4M463.5 339.3h-4M53.5 312.1h4M463.5 312.1h-4M53.5 284.8h4M463.5 284.8h-4M53.5 257.6h4M463.5 257.6h-4" stroke="#555" stroke-width="1" fill="none"/>
<text x="45.5" y="370.7" text-anchor="end" class="tk">220</text>
<text x="45.5" y="343.5" text-anchor="end" class="tk">225</text>
<text x="45.5" y="316.3" text-anchor="end" class="tk">230</text>
<text x="45.5" y="289.0" text-anchor="end" class="tk">235</text>
<text x="45.5" y="261.8" text-anchor="end" class="tk">240</text>
<text x="45.5" y="234.6" text-anchor="end" class="tk">245</text>
<text transform="translate(59.4,381.1) rotate(-45)" text-anchor="end" class="tx">1994</text>
<text transform="translate(92.2,381.1) rotate(-45)" text-anchor="end" class="tx">1996</text>
<text transform="translate(125.0,381.1) rotate(-45)" text-anchor="end" class="tx">1998</text>
<text transform="translate(157.8,381.1) rotate(-45)" text-anchor="end" class="tx">2000</text>
<text transform="translate(190.6,381.1) rotate(-45)" text-anchor="end" class="tx">2002</text>
<text transform="translate(223.4,381.1) rotate(-45)" text-anchor="end" class="tx">2004</text>
<text transform="translate(256.2,381.1) rotate(-45)" text-anchor="end" class="tx">2006</text>
<text transform="translate(289.0,381.1) rotate(-45)" text-anchor="end" class="tx">2008</text>
<text transform="translate(321.8,381.1) rotate(-45)" text-anchor="end" class="tx">2010</text>
<text transform="translate(354.6,381.1) rotate(-45)" text-anchor="end" class="tx">2012</text>
<text transform="translate(387.4,381.1) rotate(-45)" text-anchor="end" class="tx">2014</text>
<text transform="translate(420.2,381.1) rotate(-45)" text-anchor="end" class="tx">2016</text>
<text transform="translate(15.6,299.4) rotate(-90)" text-anchor="middle" class="yl">T<tspan class="sub" dy="5.8">b</tspan><tspan dy="-5.8" dx="2.2"> in K</tspan></text>
<rect x="469.5" y="230.5" width="75.0" height="148.0" fill="#fff" stroke="#777" stroke-width="1"/>
<path d="M471.7 238.5H495.8" stroke="#0b0b16" stroke-width="2.5"/>
<text x="497.3" y="242.3" class="lg">F11</text>
<path d="M471.7 251.8H495.8" stroke="#7e2f8e" stroke-width="2.5"/>
<text x="497.3" y="255.6" class="lg">F12</text>
<path d="M471.7 265.1H495.8" stroke="#2a58fb" stroke-width="2.5"/>
<text x="497.3" y="268.9" class="lg">F14</text>
<path d="M471.7 278.4H495.8" stroke="#22c2f4" stroke-width="2.5"/>
<text x="497.3" y="282.2" class="lg">F15</text>
<path d="M471.7 291.7H495.8" stroke="#0a4a22" stroke-width="2.5"/>
<text x="497.3" y="295.5" class="lg">NOAA15</text>
<path d="M471.7 304.9H495.8" stroke="#239a5e" stroke-width="2.5"/>
<text x="497.3" y="308.8" class="lg">NOAA16</text>
<path d="M471.7 318.2H495.8" stroke="#2ef25a" stroke-width="2.5"/>
<text x="497.3" y="322.0" class="lg">NOAA17</text>
<path d="M471.7 331.5H495.8" stroke="#980000" stroke-width="2.5"/>
<text x="497.3" y="335.3" class="lg">NOAA18</text>
<path d="M471.7 344.8H495.8" stroke="#cc0000" stroke-width="2.5"/>
<text x="497.3" y="348.6" class="lg">NOAA19</text>
<path d="M471.7 358.1H495.8" stroke="#ff5500" stroke-width="2.5"/>
<text x="497.3" y="361.9" class="lg">MetopA</text>
<path d="M471.7 371.4H495.8" stroke="#ffc000" stroke-width="2.5"/>
<text x="497.3" y="375.2" class="lg">MetopB</text>
<text x="202.5" y="204.5" textLength="149" lengthAdjust="spacingAndGlyphs" class="cap">(<tspan font-weight="bold">a</tspan>) Channel 1 (operational)</text>
<text x="215.6" y="424.5" textLength="121" lengthAdjust="spacingAndGlyphs" class="cap">(<tspan font-weight="bold">b</tspan>) Channel 1 (FCDR)</text>
</svg>
</body></html>
